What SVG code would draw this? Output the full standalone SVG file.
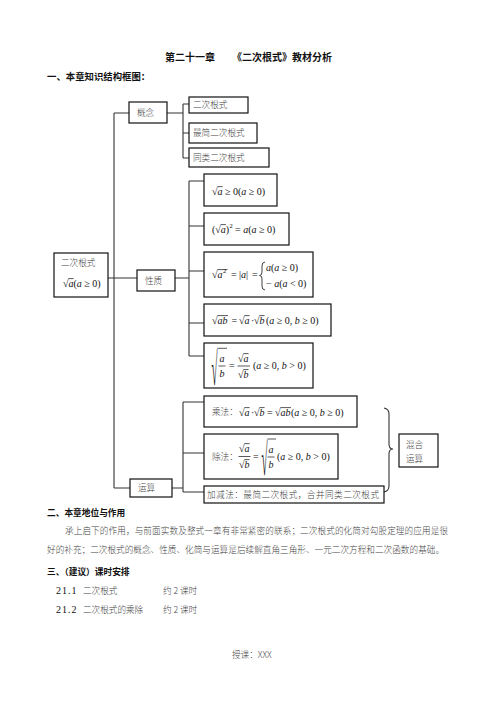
<svg xmlns="http://www.w3.org/2000/svg" width="496" height="702" viewBox="0 0 496 702">
<style>
.bx{fill:#fff;stroke:#111;stroke-width:1.2}
.ln{fill:none;stroke:#333;stroke-width:1.1}
.ov{stroke:#111;stroke-width:0.7}
.cj{font-family:"Noto Sans CJK SC",sans-serif;font-size:8.6px;fill:#444;font-weight:300}
.hd{font-family:"Noto Sans CJK SC",sans-serif;font-weight:bold;fill:#111}
.m{font-family:"Liberation Serif",serif;font-size:10px;fill:#111}
.i{font-style:italic}
.sup{font-size:6.5px}
</style>
<rect width="496" height="702" fill="#fff"/>
<text class="hd" x="165" y="61" font-size="10">第二十一章</text>
<text class="hd" x="232" y="61" font-size="10">《二次根式》教材分析</text>
<text class="hd" x="47" y="80" font-size="9.4">一、本章知识结构框图：</text>

<g id="connectors">
<path class="ln" d="M114,113 V488 M114,113 H129 M108,278 H137 M175,278 H189 M114,488 H130 M172,488 H183"/>
<path class="ln" d="M167,113 H183 M183,104 V158 M183,104 H189 M183,133 H189 M183,158 H189"/>
<path class="ln" d="M189,181 V356 M189,181 H204 M189,226 H204 M189,271 H204 M189,323 H204 M189,356 H204"/>
<path class="ln" d="M183,402 V492 M183,402 H204 M183,453 H204 M183,492 H204"/>
<path class="ln" d="M384,408 Q389,409 389,414 V444 Q389,449 393,449 Q389,449 389,454 V486 Q389,491 384,492"/>
</g>

<g id="root">
<rect class="bx" x="54" y="253" width="54" height="44"/>
<text class="cj" x="61" y="266">二次根式</text>
<text class="m" x="63" y="287">√<tspan class="i">a</tspan>(<tspan class="i">a</tspan> ≥ 0)</text>
<line class="ov" x1="68.3" y1="278.6" x2="73.6" y2="278.6"/>
</g>

<g id="gainian">
<rect class="bx" x="129" y="102" width="38" height="21"/>
<text class="cj" x="137" y="116">概念</text>
</g>
<g id="ercigenshi">
<rect class="bx" x="189" y="97" width="59" height="16"/>
<text class="cj" x="193" y="108">二次根式</text>
</g>
<g id="zuijian">
<rect class="bx" x="189" y="123" width="68" height="20"/>
<text class="cj" x="193" y="136">最简二次根式</text>
</g>
<g id="tonglei">
<rect class="bx" x="189" y="148" width="80" height="19"/>
<text class="cj" x="193" y="161">同类二次根式</text>
</g>

<g id="xingzhi">
<rect class="bx" x="137" y="270" width="38" height="21"/>
<text class="cj" x="145" y="284">性质</text>
</g>

<g id="p1">
<rect class="bx" x="204" y="174" width="73" height="32"/>
<text class="m" x="212" y="195">√<tspan class="i">a</tspan> ≥ 0(<tspan class="i">a</tspan> ≥ 0)</text>
<line class="ov" x1="217.3" y1="186.6" x2="222.6" y2="186.6"/>
</g>

<g id="p2">
<rect class="bx" x="204" y="213" width="85" height="32"/>
<text class="m" x="212" y="233">(√<tspan class="i">a</tspan>)</text>
<line class="ov" x1="220.6" y1="224.6" x2="225.9" y2="224.6"/>
<text class="m sup" x="229.6" y="228">2</text>
<text class="m" x="235" y="233">= <tspan class="i">a</tspan>(<tspan class="i">a</tspan> ≥ 0)</text>
</g>

<g id="p3">
<rect class="bx" x="204" y="252" width="109" height="45"/>
<text class="m" x="212" y="278">√<tspan class="i">a</tspan></text>
<text class="m sup" x="223" y="273">2</text>
<line class="ov" x1="217.3" y1="269.6" x2="227.5" y2="269.6"/>
<text class="m" x="231" y="278">=</text>
<text class="m" x="239" y="278">|<tspan class="i">a</tspan>|</text>
<text class="m" x="252" y="278">=</text>
<path d="M265,262 Q262,262 262,266 V272 Q262,275.5 259.5,275.5 Q262,275.5 262,279 V286 Q262,290 265,290" fill="none" stroke="#111" stroke-width="0.8"/>
<text class="m" x="266" y="271"><tspan class="i">a</tspan>(<tspan class="i">a</tspan> ≥ 0)</text>
<text class="m" x="266" y="287">− <tspan class="i">a</tspan>(<tspan class="i">a</tspan> &lt; 0)</text>
</g>

<g id="p4">
<rect class="bx" x="204" y="304" width="127" height="32"/>
<text class="m" x="212" y="324">√<tspan class="i">ab</tspan></text>
<line class="ov" x1="217.3" y1="315.6" x2="228" y2="315.6"/>
<text class="m" x="231.5" y="324">=</text>
<text class="m" x="239" y="324">√<tspan class="i">a</tspan></text>
<line class="ov" x1="244.3" y1="315.6" x2="249.6" y2="315.6"/>
<text class="m" x="251" y="324">·</text>
<text class="m" x="254" y="324">√<tspan class="i">b</tspan></text>
<line class="ov" x1="259.3" y1="315.6" x2="264.6" y2="315.6"/>
<text class="m" x="266" y="324">(<tspan class="i">a</tspan> ≥ 0, <tspan class="i">b</tspan> ≥ 0)</text>
</g>

<g id="p5">
<rect class="bx" x="204" y="343" width="109" height="45"/>
<text class="m" transform="translate(211.5,385) scale(1.1,4.6)">√</text>
<line class="ov" x1="217.5" y1="348.3" x2="227" y2="348.3"/>
<text class="m i" x="219.5" y="362">a</text>
<line class="ov" x1="218.5" y1="366" x2="225.5" y2="366"/>
<text class="m i" x="219.5" y="377">b</text>
<text class="m" x="229" y="369">=</text>
<text class="m" x="238" y="362">√<tspan class="i">a</tspan></text>
<line class="ov" x1="243.3" y1="353.6" x2="248.6" y2="353.6"/>
<line class="ov" x1="237.5" y1="366" x2="250" y2="366"/>
<text class="m" x="238" y="378">√<tspan class="i">b</tspan></text>
<line class="ov" x1="243.3" y1="369.6" x2="248.6" y2="369.6"/>
<text class="m" x="253" y="369">(<tspan class="i">a</tspan> ≥ 0, <tspan class="i">b</tspan> &gt; 0)</text>
</g>

<g id="yunsuan">
<rect class="bx" x="130" y="479" width="42" height="18"/>
<text class="cj" x="138" y="491">运算</text>
</g>

<g id="chengfa">
<rect class="bx" x="204" y="396" width="153" height="31"/>
<text class="cj" x="212" y="415">乘法：</text>
<text class="m" x="239" y="416">√<tspan class="i">a</tspan></text>
<line class="ov" x1="244.3" y1="407.6" x2="249.6" y2="407.6"/>
<text class="m" x="251" y="416">·</text>
<text class="m" x="254" y="416">√<tspan class="i">b</tspan></text>
<line class="ov" x1="259.3" y1="407.6" x2="264.6" y2="407.6"/>
<text class="m" x="267" y="416">=</text>
<text class="m" x="275" y="416">√<tspan class="i">ab</tspan></text>
<line class="ov" x1="280.3" y1="407.6" x2="291" y2="407.6"/>
<text class="m" x="291" y="416">(<tspan class="i">a</tspan> ≥ 0, <tspan class="i">b</tspan> ≥ 0)</text>
</g>

<g id="chufa">
<rect class="bx" x="204" y="434" width="134" height="45"/>
<text class="cj" x="212" y="460">除法：</text>
<text class="m" x="239" y="452">√<tspan class="i">a</tspan></text>
<line class="ov" x1="244.3" y1="443.6" x2="249.6" y2="443.6"/>
<line class="ov" x1="238.5" y1="456.5" x2="250.5" y2="456.5"/>
<text class="m" x="239" y="468">√<tspan class="i">b</tspan></text>
<line class="ov" x1="244.3" y1="459.6" x2="249.6" y2="459.6"/>
<text class="m" x="253" y="460">=</text>
<text class="m" transform="translate(261.5,475) scale(1.1,4.5)">√</text>
<line class="ov" x1="267.5" y1="439" x2="276" y2="439"/>
<text class="m i" x="268.5" y="453">a</text>
<line class="ov" x1="267.5" y1="457" x2="274.5" y2="457"/>
<text class="m i" x="268.5" y="468">b</text>
<text class="m" x="277" y="460">(<tspan class="i">a</tspan> ≥ 0, <tspan class="i">b</tspan> &gt; 0)</text>
</g>

<g id="jiajian">
<rect class="bx" x="204" y="486" width="180" height="17"/>
<text class="cj" x="207" y="498" textLength="172">加减法：最简二次根式，合并同类二次根式</text>
</g>

<g id="hunhe">
<rect class="bx" x="399" y="434" width="39" height="33"/>
<text class="cj" x="406" y="448">混合</text>
<text class="cj" x="406" y="462">运算</text>
</g>

<text class="hd" x="47" y="516" font-size="8.7">二、本章地位与作用</text>
<text class="cj" x="65" y="534" textLength="383">承上启下的作用，与前面实数及整式一章有非常紧密的联系；二次根式的化简对勾股定理的应用是很</text>
<text class="cj" x="47" y="553" textLength="397">好的补充；二次根式的概念、性质、化简与运算是后续解直角三角形、一元二次方程和二次函数的基础。</text>
<text class="hd" x="47" y="575" font-size="8.7">三、（建议）课时安排</text>
<text class="m" x="56" y="594" font-size="8.5" letter-spacing="1">21.1</text>
<text class="cj" x="83" y="594">二次根式</text>
<text class="cj" x="163" y="594">约 2 课时</text>
<text class="m" x="56" y="613" font-size="8.5" letter-spacing="1">21.2</text>
<text class="cj" x="83" y="613">二次根式的乘除</text>
<text class="cj" x="163" y="613">约 2 课时</text>
<text class="cj" x="232" y="658" font-size="7" fill="#aaa">授课：XXX</text>
</svg>
